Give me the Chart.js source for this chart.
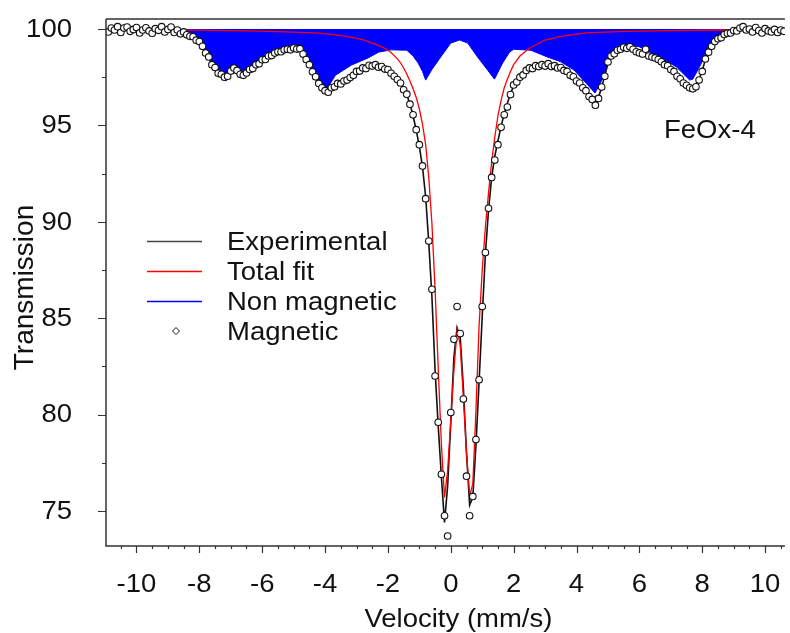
<!DOCTYPE html>
<html>
<head>
<meta charset="utf-8">
<script src="https://cdn.jsdelivr.net/npm/chart.js@4.4.1/dist/chart.umd.min.js"></script>
<style>
  html, body { margin: 0; padding: 0; background: #fff; }
  #wrap { width: 790px; height: 633px; position: relative; }
</style>
</head>
<body>
<div id="wrap"><canvas id="spectrum"></canvas></div>
<script>
// velocity channels (mm/s)
var velocity = [
  -10.9,-10.8,-10.7,-10.6,-10.5,-10.4,-10.3,-10.2,-10.1,-10.0,
  -9.9,-9.8,-9.7,-9.6,-9.5,-9.4,-9.3,-9.2,-9.1,-9.0,
  -8.9,-8.8,-8.7,-8.6,-8.5,-8.4,-8.3,-8.2,-8.1,-8.0,
  -7.9,-7.8,-7.7,-7.6,-7.5,-7.4,-7.3,-7.2,-7.1,-7.0,
  -6.9,-6.8,-6.7,-6.6,-6.5,-6.4,-6.3,-6.2,-6.1,-6.0,
  -5.9,-5.8,-5.7,-5.6,-5.5,-5.4,-5.3,-5.2,-5.1,-5.0,
  -4.9,-4.8,-4.7,-4.6,-4.5,-4.4,-4.3,-4.2,-4.1,-4.0,
  -3.9,-3.8,-3.7,-3.6,-3.5,-3.4,-3.3,-3.2,-3.1,-3.0,
  -2.9,-2.8,-2.7,-2.6,-2.5,-2.4,-2.3,-2.2,-2.1,-2.0,
  -1.9,-1.8,-1.7,-1.6,-1.5,-1.4,-1.3,-1.2,-1.1,-1.0,
  -0.9,-0.8,-0.7,-0.6,-0.5,-0.4,-0.3,-0.2,-0.1,0.0,
  0.1,0.2,0.3,0.4,0.5,0.6,0.7,0.8,0.9,1.0,
  1.1,1.2,1.3,1.4,1.5,1.6,1.7,1.8,1.9,2.0,
  2.1,2.2,2.3,2.4,2.5,2.6,2.7,2.8,2.9,3.0,
  3.1,3.2,3.3,3.4,3.5,3.6,3.7,3.8,3.9,4.0,
  4.1,4.2,4.3,4.4,4.5,4.6,4.7,4.8,4.9,5.0,
  5.1,5.2,5.3,5.4,5.5,5.6,5.7,5.8,5.9,6.0,
  6.1,6.2,6.3,6.4,6.5,6.6,6.7,6.8,6.9,7.0,
  7.1,7.2,7.3,7.4,7.5,7.6,7.7,7.8,7.9,8.0,
  8.1,8.2,8.3,8.4,8.5,8.6,8.7,8.8,8.9,9.0,
  9.1,9.2,9.3,9.4,9.5,9.6,9.7,9.8,9.9,10.0,
  10.1,10.2,10.3,10.4,10.5,10.6
];
// measured transmission (circles)
var measured = [
  99.85,100.05,99.95,100.12,99.82,100.05,100.1,99.88,99.98,100.08,
  99.8,99.95,100.06,99.9,99.78,100.02,99.93,100.12,99.85,99.98,
  100.1,99.82,99.95,99.75,99.85,99.7,99.62,99.6,99.42,99.35,
  99.1,98.75,98.55,98.15,98.0,97.7,97.65,97.5,97.55,97.82,
  97.98,97.85,97.65,97.6,97.72,97.9,97.95,98.15,98.2,98.4,
  98.42,98.6,98.62,98.75,98.82,98.82,98.92,98.95,98.92,99.02,
  98.96,98.98,98.7,98.42,98.15,97.78,97.52,97.18,96.95,96.8,
  96.72,96.95,97.0,97.18,97.15,97.3,97.35,97.48,97.6,97.8,
  97.82,97.98,97.95,98.12,98.08,98.15,98.02,98.05,97.92,97.9,
  97.7,97.55,97.38,97.2,96.85,96.62,96.1,95.55,94.78,94.0,
  92.9,91.2,89.0,86.5,82.0,79.6,76.9,74.75,73.7,80.1,
  83.9,85.6,84.2,80.8,76.8,74.75,75.75,78.7,81.8,85.6,
  88.4,90.7,92.3,93.2,94.0,94.9,95.55,95.95,96.6,97.1,
  97.25,97.5,97.62,97.85,97.98,97.95,98.1,98.05,98.15,98.08,
  98.2,98.05,98.1,97.98,98.0,97.85,97.8,97.6,97.52,97.3,
  97.2,96.95,96.8,96.5,96.35,96.05,96.4,96.99,97.55,98.29,
  98.6,98.72,98.9,98.95,99.05,99.0,99.08,98.95,98.82,98.76,
  98.7,98.95,98.6,98.55,98.5,98.42,98.3,98.15,98.1,97.9,
  97.8,97.55,97.42,97.2,97.08,96.95,96.9,97.0,97.35,97.8,
  98.45,98.8,99.1,99.35,99.5,99.55,99.72,99.78,99.8,99.92,
  99.9,100.05,100.12,99.95,100.0,99.85,100.08,99.92,99.8,100.02,
  99.9,99.85,99.98,99.82,99.95,99.88
];
// black line through the data
var experimental = [
  99.93,99.93,99.93,99.93,99.93,99.93,99.93,99.93,99.93,99.93,
  99.92,99.92,99.92,99.92,99.92,99.92,99.91,99.91,99.9,99.9,
  99.89,99.88,99.86,99.82,99.78,99.72,99.65,99.56,99.45,99.3,
  99.08,98.8,98.5,98.2,97.95,97.76,97.62,97.55,97.62,97.8,
  97.9,97.82,97.7,97.66,97.74,97.86,97.99,98.12,98.24,98.35,
  98.45,98.55,98.64,98.72,98.79,98.85,98.89,98.92,98.95,98.98,
  98.98,98.9,98.72,98.45,98.14,97.8,97.48,97.2,96.98,96.82,
  96.8,96.9,97.03,97.13,97.2,97.27,97.37,97.5,97.64,97.75,
  97.85,97.94,98.01,98.07,98.1,98.1,98.07,98.02,97.95,97.85,
  97.72,97.57,97.4,97.18,96.9,96.58,96.12,95.5,94.75,93.9,
  92.85,91.3,88.9,86.1,82.3,79.4,76.8,74.4,76.3,79.6,
  83.0,84.5,84.0,81.4,78.0,75.3,75.7,78.4,81.7,85.1,
  88.3,90.6,92.3,93.4,94.2,94.95,95.6,96.15,96.65,97.05,
  97.32,97.5,97.65,97.8,97.93,98.0,98.05,98.09,98.11,98.12,
  98.12,98.1,98.07,98.02,97.95,97.86,97.76,97.64,97.5,97.35,
  97.18,96.98,96.76,96.52,96.3,96.22,96.48,96.95,97.6,98.2,
  98.55,98.75,98.87,98.95,99.0,99.04,99.05,99.0,98.9,98.8,
  98.73,98.68,98.62,98.56,98.49,98.4,98.3,98.19,98.07,97.93,
  97.77,97.59,97.4,97.24,97.1,97.0,96.96,97.08,97.38,97.85,
  98.4,98.82,99.12,99.33,99.48,99.6,99.7,99.77,99.82,99.86,
  99.89,99.91,99.92,99.92,99.93,99.93,99.93,99.93,99.93,99.93,
  99.93,99.93,99.93,99.93,99.93,99.93
];
// red curve
var fitVelocity = [-10.9,-9,-8,-7,-6,-5,-4.2,-3.6,-3.2,-2.8,-2.4,-2.1,
  -1.9,-1.8,-1.7,-1.6,-1.5,-1.4,-1.3,-1.2,-1.1,-1.0,-0.9,-0.8,-0.7,-0.6,-0.5,-0.4,-0.3,-0.2,
  -0.1,0,0.1,0.2,0.3,0.4,0.5,0.6,0.7,0.8,0.9,1.0,1.1,1.2,1.3,1.4,1.5,1.6,1.7,1.8,1.9,2.0,
  2.2,2.5,3.0,3.5,4.3,5.5,7,8.5,10.6];
var totalFit = [99.97,99.96,99.94,99.92,99.89,99.84,99.79,99.68,99.58,99.45,99.22,99.0,
  98.78,98.62,98.45,98.25,97.98,97.67,97.3,96.9,96.45,95.85,95.05,94.0,92.3,89.9,86.5,82.4,78.5,75.7,
  77.1,79.7,82.3,84.4,83.6,80.9,78.0,75.8,76.4,80.2,84.6,87.5,89.7,91.5,93.1,94.4,95.5,96.3,96.95,97.4,97.8,98.15,
  98.6,99.0,99.43,99.62,99.8,99.88,99.92,99.95,99.97];
// blue filled component
var nonMagVelocity = [-10.9,-8.8,-8.6,-8.3,-8.0,-7.7,-7.4,-7.15,-6.96,-6.8,
  -6.65,-6.4,-6.2,-5.7,-5.2,-4.84,-4.7,-4.5,-4.2,-3.96,
  -3.67,-3.16,-2.63,-2.3,-1.9,-1.4,-1.2,-1.04,-0.9,-0.8,
  -0.6,-0.32,0.0,0.28,0.54,0.85,1.17,1.39,1.65,1.87,
  2.0,2.55,3.07,3.5,3.92,4.3,4.59,4.81,5.0,5.19,
  5.6,6.01,6.65,7.18,7.6,7.7,7.91,8.23,8.54,8.99,10.6];
var nonMagnetic = [99.98,99.95,99.85,99.7,99.43,98.5,97.7,97.3,97.77,97.75,
  97.6,97.9,98.13,98.76,98.95,99.0,98.75,98.13,97.2,96.84,
  97.6,98.13,98.5,98.8,98.92,98.9,98.6,98.24,97.8,97.35,
  97.9,98.55,99.27,99.43,99.27,98.55,97.87,97.4,98.24,98.8,
  98.95,98.9,98.55,98.3,97.87,97.2,96.68,97.35,98.2,98.76,
  99.2,99.07,98.55,98.03,97.35,97.4,98.03,99.07,99.59,99.95,99.98];

var yTicks = [75, 80, 85, 90, 95, 100];
var xTicks = [-10, -8, -6, -4, -2, 0, 2, 4, 6, 8, 10];
var legendNames = ["Experimental", "Total fit", "Non magnetic", "Magnetic"];

function pairs(xs, ys) {
  return xs.map(function(v, i) { return { x: v, y: ys[i] } })
}

var FONT = '25px "Liberation Sans", Arial, sans-serif';

// text in the original is a bit wider than Arial, so stretch it
function wideText(ctx, s, x, y, align) {
  ctx.save();
  ctx.translate(x, y);
  ctx.scale(1.1, 1);
  ctx.textAlign = align;
  ctx.fillText(s, 0, 0);
  ctx.restore();
}

var framePlugin = {
  id: 'frame',
  afterDraw: function(chart) {
    var ctx = chart.ctx, a = chart.chartArea;
    var xs = chart.scales.x, ys = chart.scales.y;
    ctx.save();
    ctx.strokeStyle = '#333';
    ctx.lineWidth = 1.5;
    ctx.beginPath();
    ctx.moveTo(a.left, a.top); ctx.lineTo(a.right, a.top);
    ctx.moveTo(a.left, a.top); ctx.lineTo(a.left, a.bottom); ctx.lineTo(a.right, a.bottom);
    ctx.stroke();

    // tick marks
    ctx.lineWidth = 1.2;
    ctx.beginPath();
    for (var v = 75; v <= 100; v += 2.5) {
      var py = Math.round(ys.getPixelForValue(v)) + 0.5;
      var len = (v % 5 === 0) ? 8 : 4;
      ctx.moveTo(a.left - len, py); ctx.lineTo(a.left, py);
    }
    for (var u = -10.5; u <= 10.5; u += 0.5) {
      var px = Math.round(xs.getPixelForValue(u)) + 0.5;
      var l2 = (u % 2 === 0) ? 7 : 3;
      ctx.moveTo(px, a.bottom); ctx.lineTo(px, a.bottom + l2);
    }
    ctx.stroke();

    // tick labels
    ctx.fillStyle = '#111';
    ctx.font = FONT;
    ctx.textBaseline = 'middle';
    yTicks.forEach(function(t) {
      wideText(ctx, String(t), a.left - 34, ys.getPixelForValue(t) + 1, 'right');
    });
    ctx.textBaseline = 'alphabetic';
    xTicks.forEach(function(t) {
      wideText(ctx, String(t), xs.getPixelForValue(t), a.bottom + 46, 'center');
    });

    // axis titles
    wideText(ctx, 'Velocity (mm/s)', (a.left + a.right) / 2 + 13, a.bottom + 81, 'center');
    ctx.save();
    ctx.translate(a.left - 73, (a.top + a.bottom) / 2 + 5);
    ctx.rotate(-Math.PI / 2);
    ctx.font = '28px "Liberation Sans", Arial, sans-serif';
    ctx.textAlign = 'center';
    ctx.fillText('Transmission', 0, 0);
    ctx.restore();

    // sample name
    ctx.font = '25px "Liberation Sans", Arial, sans-serif';
    wideText(ctx, 'FeOx-4', a.left + 558, a.top + 119, 'left');

    // legend
    var lx = a.left + 41, ly = a.top + 222, gap = 30;
    var colors = ['#444', '#ff0000', '#0000ff'];
    ctx.lineWidth = 1.5;
    for (var i = 0; i < 3; i++) {
      ctx.strokeStyle = colors[i];
      ctx.beginPath();
      ctx.moveTo(lx, ly + i * gap + 0.5); ctx.lineTo(lx + 55, ly + i * gap + 0.5);
      ctx.stroke();
    }
    var dx = lx + 29, dy = ly + 3 * gap;
    ctx.strokeStyle = '#111';
    ctx.lineWidth = 1;
    ctx.fillStyle = '#fff';
    ctx.beginPath();
    ctx.moveTo(dx, dy - 3.5); ctx.lineTo(dx + 3.5, dy); ctx.lineTo(dx, dy + 3.5); ctx.lineTo(dx - 3.5, dy);
    ctx.closePath(); ctx.fill(); ctx.stroke();
    ctx.fillStyle = '#111';
    legendNames.forEach(function(n, k) {
      wideText(ctx, n, lx + 80, ly + k * gap + 9, 'left');
    });
    ctx.restore();
  }
};

new Chart(document.getElementById('spectrum').getContext('2d'), {
  type: 'scatter',
  data: {
    datasets: [{
      label: 'Magnetic',
      data: pairs(velocity, measured),
      pointRadius: 3.3,
      pointBorderWidth: 1.1,
      pointBorderColor: '#111',
      pointBackgroundColor: '#fff',
      showLine: false,
      order: 0
    }, {
      label: 'Total fit',
      data: pairs(fitVelocity, totalFit),
      showLine: true,
      borderColor: '#ff0000',
      borderWidth: 1.3,
      pointRadius: 0,
      order: 1
    }, {
      label: 'Experimental',
      data: pairs(velocity, experimental),
      showLine: true,
      borderColor: '#111',
      borderWidth: 1.6,
      pointRadius: 0,
      order: 2
    }, {
      label: 'Non magnetic',
      data: pairs(nonMagVelocity, nonMagnetic),
      showLine: true,
      borderColor: '#0000ff',
      backgroundColor: '#0000ff',
      borderWidth: 1,
      pointRadius: 0,
      fill: { value: 100 },
      order: 3
    }]
  },
  options: {
    responsive: true,
    maintainAspectRatio: false,
    animation: false,
    layout: { padding: { top: 19, left: 0, right: 0, bottom: 0 } },
    plugins: {
      legend: { display: false },
      tooltip: { enabled: false }
    },
    scales: {
      x: {
        type: 'linear',
        min: -10.97,
        max: 10.63,
        grid: { display: false, drawTicks: false },
        border: { display: false },
        ticks: { display: false },
        afterFit: function(s) { s.height = 87 }
      },
      y: {
        type: 'linear',
        min: 73.18,
        max: 100.52,
        grid: { display: false, drawTicks: false },
        border: { display: false },
        ticks: { display: false },
        afterFit: function(s) { s.width = 106 }
      }
    }
  },
  plugins: [framePlugin]
});
</script>
</body>
</html>
